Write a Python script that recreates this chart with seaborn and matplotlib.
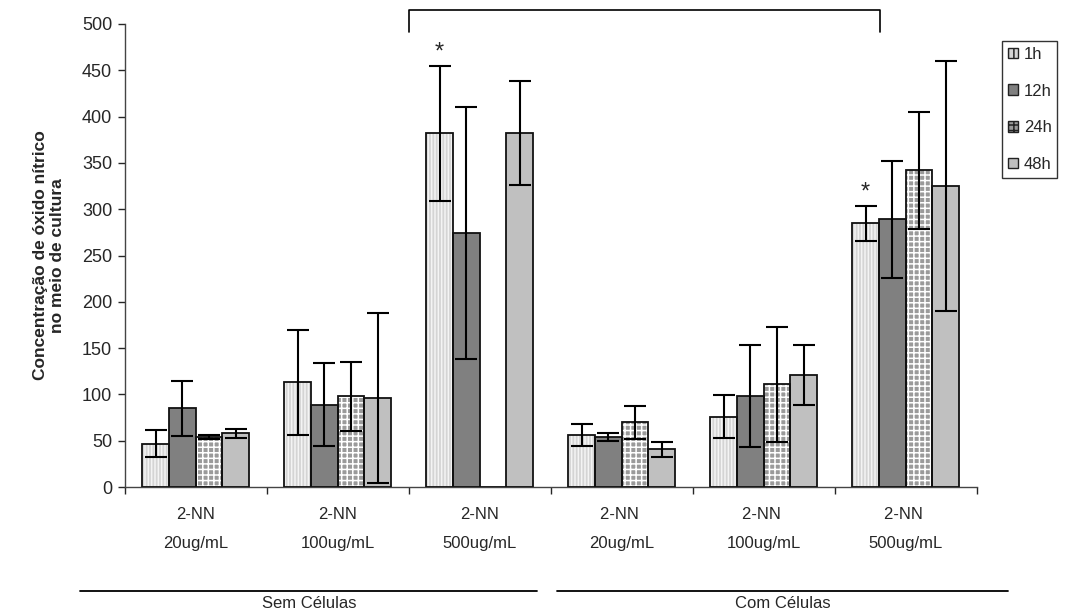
import numpy as np
import pandas as pd
import matplotlib
matplotlib.use("Agg")
import matplotlib.pyplot as plt
import seaborn as sns
from matplotlib.patches import Rectangle, Patch

# data
groups = ["2-NN\n20ug/mL", "2-NN\n100ug/mL", "2-NN\n500ug/mL",
          "2-NN \n20ug/mL", "2-NN \n100ug/mL", "2-NN \n500ug/mL"]
times = ["1h", "12h", "24h", "48h"]

mean_1h = [47, 113, 382, 56, 76, 285]
mean_12h = [85, 89, 274, 54, 98, 289]
mean_24h = [54, 98, 0, 70, 111, 342]
mean_48h = [58, 96, 382, 41, 121, 325]

sd_1h = [15, 57, 73, 12, 23, 19]
sd_12h = [30, 45, 136, 4, 55, 63]
sd_24h = [2, 37, 0, 18, 62, 63]
sd_48h = [5, 92, 56, 8, 32, 135]

star_groups = [2, 5]  # 1h bars marked with *

sns.set_style("white")
plt.rcParams["font.family"] = ["Liberation Sans", "DejaVu Sans"]
plt.rcParams["hatch.linewidth"] = 1.1

means = [mean_1h, mean_12h, mean_24h, mean_48h]
sds = [sd_1h, sd_12h, sd_24h, sd_48h]
rows = []
for t, m, s in zip(times, means, sds):
    for g, v, e in zip(groups, m, s):
        rows.append({"grupo": g, "tempo": t, "valor": v, "dp": e})
df = pd.DataFrame(rows)

fig = plt.figure(figsize=(10.65, 6.15), dpi=100)
ax = fig.add_axes([0.117, 0.208, 0.8, 0.753])

faces = {"1h": "#d4d4d4", "12h": "#808080", "24h": "#9a9a9a", "48h": "#c0c0c0"}
hatches = {"1h": "|||||", "12h": "", "24h": "+++", "48h": ""}
hcolors = {"1h": "#f4f4f4", "12h": "#808080", "24h": "#ffffff", "48h": "#c0c0c0"}

sns.barplot(data=df, x="grupo", y="valor", hue="tempo", order=groups,
            hue_order=times, palette=faces, errorbar=None, width=0.75,
            gap=0, saturation=1, legend=False, ax=ax)

# style bars: hatch in its own colour, black outline on top
for cont, t in zip(ax.containers, times):
    for i, p in enumerate(cont.patches):
        p.set_hatch(hatches[t])
        p.set_edgecolor(hcolors[t])
        p.set_linewidth(0)
        x0, y0 = p.get_x(), p.get_y()
        w, h = p.get_width(), p.get_height()
        ax.add_patch(Rectangle((x0, y0), w, h, fill=False,
                               edgecolor="#111111", linewidth=1.3, zorder=3))
        sub = df[(df["tempo"] == t) & (df["grupo"] == groups[i])].iloc[0]
        if sub["valor"] > 0:
            ax.errorbar(x0 + w / 2, sub["valor"], yerr=sub["dp"], fmt="none",
                        ecolor="black", elinewidth=1.5, capsize=8,
                        capthick=1.5, zorder=4)
        if t == "1h" and i in star_groups:
            ax.text(x0 + w / 2, sub["valor"] + sub["dp"] + 2, "*",
                    ha="center", va="bottom", fontsize=17, zorder=5)

ax.set_ylim(0, 500)
ax.set_xlim(-0.5, 5.5)
ax.set_yticks(np.arange(0, 501, 50))
ax.tick_params(axis="y", labelsize=13, length=5, width=1, direction="out",
               left=True, pad=4)
ax.set_xticks(range(6))
ax.set_xticklabels(groups, fontsize=12, linespacing=2.2)
ax.tick_params(axis="x", length=0, pad=14)
ax.set_xticks(np.arange(-0.5, 6, 1), minor=True)
ax.tick_params(axis="x", which="minor", length=5, width=1, direction="out",
               bottom=True)
ax.set_xlabel("")
ax.set_ylabel("Concentração de óxido nítrico\nno meio de cultura",
              fontsize=12.5, fontweight="bold", labelpad=12)

for s in ["top", "right"]:
    ax.spines[s].set_visible(False)
for s in ["left", "bottom"]:
    ax.spines[s].set_color("#444444")
    ax.spines[s].set_linewidth(1)

# bracket across the top
ax.plot([1.5, 1.5, 4.82, 4.82], [491, 515, 515, 491], color="black",
        linewidth=1.2, clip_on=False)

# legend
handles = [Patch(facecolor=faces[t], hatch=hatches[t].replace("|||||", "|||"),
                 edgecolor="#222222", linewidth=1) for t in times]
leg = fig.legend(handles, times, loc="upper left",
                 bbox_to_anchor=(1002 / 1065, 1 - 41 / 615), fontsize=12,
                 frameon=True, fancybox=False, edgecolor="black",
                 handlelength=0.6, handleheight=0.6, handletextpad=0.35,
                 labelspacing=1.3, borderpad=0.35, borderaxespad=0)
leg.get_frame().set_linewidth(1)

# group lines at the bottom
fig.add_artist(plt.Line2D([80 / 1065, 537 / 1065], [1 - 591 / 615] * 2,
                          color="black", linewidth=1.3))
fig.add_artist(plt.Line2D([557 / 1065, 1008 / 1065], [1 - 591 / 615] * 2,
                          color="black", linewidth=1.3))
fig.text(309 / 1065, 1 - 604 / 615, "Sem Células", ha="center", va="center",
         fontsize=12)
fig.text(783 / 1065, 1 - 604 / 615, "Com Células", ha="center", va="center",
         fontsize=12)

fig.savefig("out.png", dpi=100)
